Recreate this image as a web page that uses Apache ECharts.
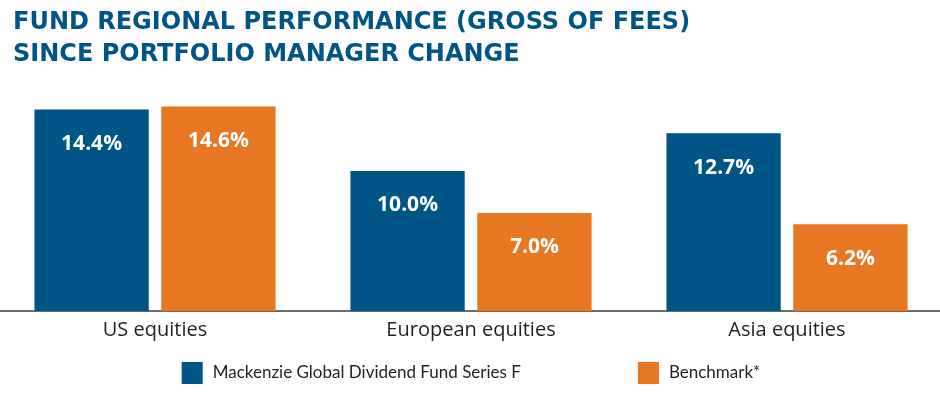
<!DOCTYPE html>
<html>
<head>
<meta charset="utf-8">
<script src="https://cdn.jsdelivr.net/npm/echarts@6/dist/echarts.min.js"></script>
<style>
  html, body { margin: 0; padding: 0; background: #fff; overflow: hidden; }
  /* chart is 8px wider than the window so the grid can run a bit past both edges */
  #chart { width: 948px; height: 397px; margin-left: -3px; }
</style>
</head>
<body>
<div id="chart"></div>
<script>
  const categories = ['US equities', 'European equities', 'Asia equities'];
  const fundName = 'Mackenzie Global Dividend Fund Series F';
  const benchName = 'Benchmark*';
  const fundValues = [14.4, 10.0, 12.7];
  const benchValues = [14.6, 7.0, 6.2];

  const blue = '#005587';
  const orange = '#e87722';
  const textDark = '#231f20';

  const chart = echarts.init(document.getElementById('chart'));

  const valueLabel = {
    show: true,
    position: 'insideTop',
    distance: 24,
    color: '#fff',
    fontFamily: 'Open Sans',
    fontWeight: 'bold',
    fontSize: 21,
    formatter: p => p.value.toFixed(1) + '%'
  };

  chart.setOption({
    animation: false,
    title: {
      text: 'FUND REGIONAL PERFORMANCE (GROSS OF FEES)\nSINCE PORTFOLIO MANAGER CHANGE',
      left: 11,
      top: 2,
      textStyle: {
        color: blue,
        fontFamily: 'DejaVu Sans',
        fontWeight: 'bold',
        fontSize: 24,
        lineHeight: 32
      }
    },
    legend: {
      top: 357,
      left: 'center',
      icon: 'rect',
      itemWidth: 21,
      itemHeight: 22,
      itemGap: 117,
      textStyle: { color: textDark, fontFamily: 'Lato', fontSize: 17, padding: [0, 0, 0, 5] },
      data: [fundName, benchName]
    },
    grid: { left: 0, right: 0, top: 101, bottom: 86 },
    xAxis: {
      type: 'category',
      data: categories,
      axisLine: { show: true, lineStyle: { color: '#3a3a3a', width: 1.5 } },
      axisTick: { show: false },
      axisLabel: { color: textDark, fontFamily: 'Open Sans', fontSize: 20, margin: 9 }
    },
    yAxis: {
      type: 'value',
      min: 0,
      max: 15,
      show: false,
      splitLine: { show: false }
    },
    series: [
      {
        name: fundName,
        type: 'bar',
        data: fundValues,
        barGap: '11%',
        barCategoryGap: '23.7%',
        itemStyle: { color: blue },
        label: valueLabel
      },
      {
        name: benchName,
        type: 'bar',
        data: benchValues,
        itemStyle: { color: orange },
        label: valueLabel
      }
    ]
  });
</script>
</body>
</html>
